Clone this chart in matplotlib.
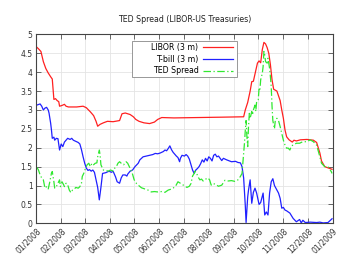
import pandas as pd
import matplotlib
matplotlib.use("Agg")
import matplotlib.pyplot as plt
import matplotlib.dates as mdates
from matplotlib.patches import Rectangle
from matplotlib.ticker import FormatStrFormatter

# days counted from 01/01/2008, rates in percent
libor_day = [0, 3, 6, 9, 12, 15, 18, 20, 21, 22, 24, 26, 28, 29, 32, 35, 37, 40,
             50, 58, 62, 67, 71, 74, 76, 79, 83, 88, 95, 103, 106, 110, 116, 120,
             123, 127, 133, 140, 146, 150, 155, 170, 200, 230, 256, 258, 261, 264,
             266, 268, 271, 273, 275, 277, 279, 281, 283, 285, 287, 289, 291, 293,
             297, 301, 303, 305, 307, 309, 312, 316, 318, 321, 326, 334, 342, 346,
             350, 352, 356, 361, 365]
libor_rate = [4.68, 4.62, 4.55, 4.28, 4.10, 3.98, 3.88, 3.82, 3.55, 3.28, 3.30, 3.25,
              3.22, 3.10, 3.12, 3.15, 3.10, 3.08, 3.08, 3.10, 3.06, 2.95, 2.85, 2.70,
              2.57, 2.62, 2.66, 2.70, 2.69, 2.72, 2.90, 2.92, 2.88, 2.82, 2.75, 2.70,
              2.66, 2.64, 2.68, 2.75, 2.80, 2.79, 2.80, 2.81, 2.82, 3.00, 3.20, 3.50,
              3.75, 3.76, 4.05, 4.24, 4.30, 4.25, 4.60, 4.79, 4.75, 4.65, 4.50, 4.20,
              3.80, 3.55, 3.50, 3.25, 3.00, 2.78, 2.47, 2.29, 2.21, 2.15, 2.20, 2.18,
              2.21, 2.22, 2.20, 2.14, 1.86, 1.65, 1.50, 1.46, 1.43]

tbill_day = [1, 5, 7, 9, 11, 13, 15, 16, 18, 19, 20, 22, 23, 25, 27, 29, 31, 33, 35,
             37, 39, 42, 44, 46, 48, 52, 54, 56, 58, 60, 62, 64, 66, 68, 70, 72, 74,
             76, 78, 80, 82, 86, 90, 93, 95, 98, 100, 103, 105, 107, 110, 112, 113,
             116, 119, 122, 126, 128, 132, 136, 140, 144, 147, 150, 153, 157, 159,
             161, 163, 165, 167, 169, 171, 173, 175, 177, 178, 180, 183, 185, 187,
             189, 190, 192, 193, 195, 197, 199, 201, 203, 205, 207, 209, 211, 213,
             215, 217, 219, 221, 223, 225, 227, 229, 231, 235, 241, 246, 249, 252,
             254, 256, 257, 258, 259, 261, 262, 264, 266, 268, 270, 272, 275, 277,
             280, 282, 284, 286, 288, 290, 292, 294, 297, 299, 301, 303, 305, 307,
             309, 313, 317, 321, 325, 327, 329, 332, 338, 346, 350, 354, 360, 365]
tbill_rate = [3.13, 3.16, 3.10, 3.00, 3.05, 3.07, 3.00, 2.92, 2.65, 2.47, 2.25, 2.28,
              2.20, 2.25, 2.24, 1.94, 2.10, 2.03, 2.15, 2.20, 2.25, 2.22, 2.25, 2.20,
              2.18, 2.14, 2.10, 1.95, 1.76, 1.59, 1.46, 1.40, 1.42, 1.38, 1.41, 1.35,
              1.15, 0.95, 0.62, 0.95, 1.32, 1.34, 1.38, 1.35, 1.38, 1.23, 1.10, 1.06,
              1.20, 1.28, 1.28, 1.25, 1.30, 1.38, 1.41, 1.50, 1.59, 1.68, 1.76, 1.78,
              1.80, 1.82, 1.85, 1.84, 1.86, 1.90, 1.94, 1.92, 1.98, 2.05, 1.95, 1.88,
              1.83, 1.78, 1.74, 1.63, 1.72, 1.80, 1.78, 1.82, 1.78, 1.70, 1.63, 1.50,
              1.41, 1.32, 1.41, 1.45, 1.50, 1.58, 1.68, 1.62, 1.72, 1.65, 1.76, 1.72,
              1.65, 1.80, 1.83, 1.76, 1.78, 1.72, 1.66, 1.72, 1.68, 1.63, 1.64, 1.61,
              1.60, 1.50, 1.20, 0.85, 0.48, 0.02, 0.70, 0.88, 1.15, 0.53, 0.82, 0.93,
              0.80, 0.50, 0.55, 0.80, 0.22, 0.30, 0.22, 0.80, 1.10, 1.18, 1.00, 0.88,
              0.80, 0.66, 0.40, 0.42, 0.35, 0.33, 0.27, 0.13, 0.04, 0.10, 0.01, 0.08,
              0.02, 0.03, 0.02, 0.03, 0.01, 0.02, 0.12]

ted_day = [1, 3, 5, 7, 9, 11, 13, 15, 17, 19, 20, 22, 23, 25, 27, 29, 30, 32, 34, 35,
           37, 39, 41, 43, 45, 47, 49, 52, 54, 56, 57, 59, 61, 63, 65, 67, 69, 71, 73,
           75, 76, 78, 79, 80, 81, 83, 86, 89, 92, 95, 97, 99, 101, 103, 105, 108,
           111, 113, 115, 117, 119, 121, 124, 126, 130, 134, 138, 142, 146, 150, 155,
           159, 163, 166, 169, 172, 175, 178, 181, 184, 186, 189, 191, 193, 195, 196,
           198, 200, 202, 204, 206, 208, 210, 212, 214, 216, 219, 222, 225, 229, 233,
           237, 241, 245, 249, 252, 254, 255, 257, 258, 259, 260, 261, 262, 263, 264,
           266, 267, 268, 270, 271, 272, 274, 275, 276, 277, 278, 279, 280, 281, 282,
           283, 285, 286, 288, 289, 290, 291, 292, 294, 295, 297, 299, 301, 303, 305,
           307, 309, 311, 313, 315, 317, 321, 325, 329, 334, 338, 342, 346, 350, 352,
           356, 360, 364, 365]
ted_rate = [1.48, 1.41, 1.28, 1.20, 1.15, 0.93, 0.97, 0.91, 1.10, 1.33, 1.37, 1.10,
            0.93, 0.97, 1.06, 1.15, 0.97, 1.10, 1.02, 0.97, 1.06, 1.02, 0.88, 0.81,
            0.88, 0.90, 0.95, 0.93, 0.97, 1.06, 1.24, 1.33, 1.46, 1.55, 1.59, 1.50,
            1.59, 1.55, 1.59, 1.60, 1.76, 1.94, 1.80, 1.55, 1.50, 1.41, 1.40, 1.38,
            1.41, 1.38, 1.46, 1.50, 1.59, 1.63, 1.59, 1.55, 1.63, 1.59, 1.50, 1.41,
            1.30, 1.15, 1.05, 1.01, 0.94, 0.91, 0.88, 0.83, 0.84, 0.83, 0.84, 0.82,
            0.88, 0.90, 0.93, 0.98, 1.10, 1.06, 1.02, 0.98, 0.95, 0.98, 1.05, 1.25,
            1.32, 1.38, 1.32, 1.22, 1.15, 1.17, 1.12, 1.15, 1.18, 1.20, 1.15, 1.01,
            1.05, 1.02, 0.98, 1.01, 1.14, 1.12, 1.13, 1.11, 1.15, 1.24, 1.32, 1.59,
            2.12, 2.45, 2.72, 2.30, 2.03, 2.56, 2.91, 2.78, 2.96, 2.87, 3.00, 3.13,
            2.96, 3.22, 3.27, 3.57, 3.53, 3.80, 3.88, 3.97, 4.15, 4.55, 4.46, 4.28,
            4.24, 4.37, 4.10, 3.88, 3.62, 3.10, 2.72, 2.50, 2.72, 2.78, 2.72, 2.56,
            2.38, 2.20, 2.07, 1.99, 1.99, 1.94, 2.05, 2.07, 2.12, 2.12, 2.16, 2.16,
            2.21, 2.16, 2.07, 1.76, 1.59, 1.50, 1.50, 1.37, 1.32]

start = pd.Timestamp("2008-01-01")


def to_dates(days):
    return start + pd.to_timedelta(days, unit="D")


def make_graph():
    plt.rcParams["font.family"] = "DejaVu Sans"
    fig = plt.figure(figsize=(3.5, 2.63), dpi=100)
    ax = fig.add_axes([0.103, 0.151, 0.848, 0.718])

    ax.plot(to_dates(libor_day), libor_rate, color="#ff2020", lw=0.9,
            label="LIBOR (3 m)")
    ax.plot(to_dates(tbill_day), tbill_rate, color="#2020ff", lw=0.9,
            label="T-bill (3 m)")
    ax.plot(to_dates(ted_day), ted_rate, color="#30e830", lw=0.9,
            linestyle=(0, (6, 2, 1, 2)), label="TED Spread")

    ax.set_xlim(pd.Timestamp("2008-01-01"), pd.Timestamp("2009-01-01"))
    ax.set_ylim(0, 5)
    ax.set_yticks([i * 0.5 for i in range(11)])
    ax.yaxis.set_major_formatter(FormatStrFormatter("%g"))
    ax.xaxis.set_major_locator(mdates.MonthLocator())
    ax.xaxis.set_major_formatter(mdates.DateFormatter("%m/%Y"))
    plt.setp(ax.get_xticklabels(), rotation=45, ha="right",
             rotation_mode="anchor")

    ax.grid(True, color="#e4e4e4", lw=0.6)
    ax.set_axisbelow(True)
    ax.tick_params(direction="in", top=True, right=True, length=3.5,
                   width=0.5, labelsize=5.5, colors="#333333", pad=2.5)
    for s in ax.spines.values():
        s.set_linewidth(0.8)
        s.set_color("#444444")

    ax.set_title("TED Spread (LIBOR-US Treasuries)", fontsize=5.7,
                 color="#222222", pad=9)

    # gnuplot-like key box: wide padding on the left, samples on the right
    box = Rectangle((0.323, 0.775), 0.354, 0.19, transform=ax.transAxes,
                    facecolor="white", edgecolor="#888888", lw=0.6, zorder=4)
    ax.add_patch(box)
    leg = ax.legend(loc="upper right", bbox_to_anchor=(0.662, 0.955),
                    borderaxespad=0, borderpad=0, fontsize=5.7,
                    markerfirst=False, handlelength=3.7, handletextpad=0.6,
                    labelspacing=0.34, frameon=False)
    leg.set_zorder(5)

    fig.savefig("out.png", dpi=100)


def main():
    make_graph()


if __name__ == "__main__":
    main()
